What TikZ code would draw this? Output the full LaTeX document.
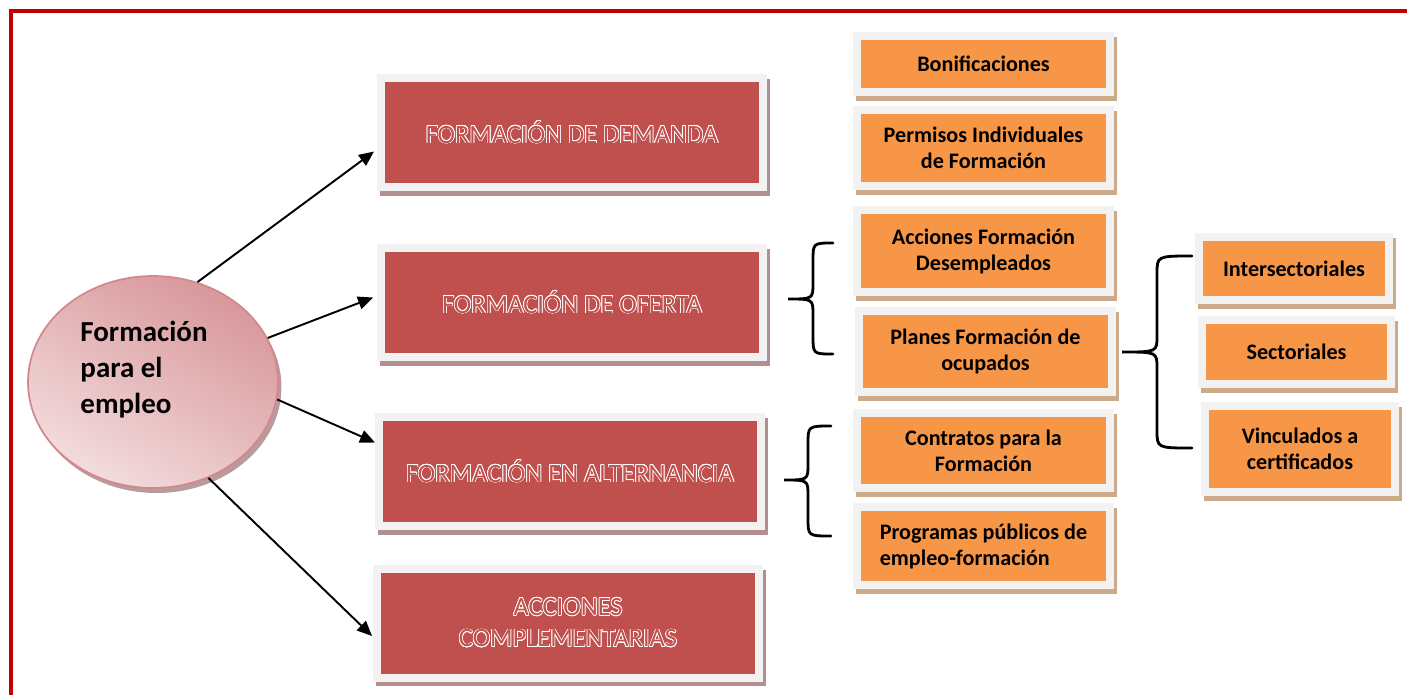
\documentclass[tikz,border=0pt]{standalone}
\usepackage{fontspec}
\setmainfont{Carlito}
\usepackage[copies]{contour}
\usepackage{tikz}
\usetikzlibrary{shapes, arrows, arrows.meta, positioning, calc}

\definecolor{framered}{HTML}{C00000}
\definecolor{boxred}{HTML}{C0504D}
\definecolor{boxorange}{HTML}{F79646}
\definecolor{rimgray}{HTML}{F2F2F2}
\definecolor{shadered}{HTML}{B48F90}
\definecolor{shadeorange}{HTML}{CDAA8A}
\definecolor{pinkdark}{HTML}{D8979B}
\definecolor{pinkpale}{HTML}{F3DCDD}
\definecolor{pinkedge}{HTML}{D4888C}
\definecolor{shadepink}{HTML}{B89C9D}

\contourlength{0.4pt}
\newcommand{\hollow}[1]{\contour{white}{\textcolor{boxred}{#1}}}

\begin{document}
\begin{tikzpicture}[x=0.02cm, y=-0.02cm, >={Triangle[length=0.3cm, width=0.26cm]}]
	\tikzstyle{red_style}=[rectangle, fill=boxred, draw=rimgray, line width=0.16cm, outer sep=0.08cm, inner sep=0pt, minimum width=7.64cm, minimum height=2.18cm, align=center, font=\fontsize{15}{17.8}\selectfont, preaction={draw=shadered, fill=shadered, line width=0.16cm, transform canvas={shift={(0.06cm,-0.1cm)}}}]
	\tikzstyle{orange_style}=[rectangle, fill=boxorange, draw=rimgray, line width=0.16cm, outer sep=0.08cm, inner sep=0pt, minimum width=5.06cm, align=center, font=\bfseries\fontsize{12.6}{14.8}\selectfont, preaction={draw=shadeorange, fill=shadeorange, line width=0.16cm, transform canvas={shift={(0.06cm,-0.1cm)}}}]
	\tikzstyle{small_style}=[orange_style, minimum width=3.8cm]
	\tikzstyle{ellipse_style}=[ellipse, draw=pinkedge, line width=1pt, minimum width=5cm, minimum height=4.24cm, top color=pinkdark, bottom color=pinkpale, shading angle=-30, preaction={fill=shadepink, transform canvas={shift={(0.07cm,-0.1cm)}}}]
	\tikzstyle{arrow_style}=[line width=1.1pt, black]
	\tikzstyle{brace_style}=[line width=1.6pt, black, line cap=round]

	\useasboundingbox (0,0) rectangle (1407,694);

	% frame
	\draw[line width=0.08cm, framered] (11,720) -- (11,10.5) -- (1430,10.5);

	% centre
	\node at (153, 382) [ellipse_style] (formacion) {};
	\node at (144, 370) [align=left, font=\bfseries\fontsize{16.5}{20.5}\selectfont] (formacion_txt) {Formación\\para el\\empleo};

	% first level
	\node at (572, 132.5) [red_style] (demanda) {\hollow{FORMACIÓN DE DEMANDA}};
	\node at (572, 302.5) [red_style] (oferta) {\hollow{FORMACIÓN DE OFERTA}};
	\node at (570, 471.5) [red_style] (alternancia) {\hollow{FORMACIÓN EN ALTERNANCIA}};
	\node at (568, 623) [red_style] (complementarias) {\hollow{ACCIONES}\\\hollow{COMPLEMENTARIAS}};

	% second level
	\node at (983.5, 64) [orange_style, minimum height=1.12cm] (bonif) {Bonificaciones};
	\node at (983.5, 148) [orange_style, minimum height=1.52cm] (permisos) {Permisos Individuales\\de Formación};
	\node at (983.5, 251) [orange_style, minimum height=1.64cm] (desempleados) {Acciones Formación\\Desempleados};
	\node at (985.5, 351.5) [orange_style, minimum height=1.62cm] (ocupados) {Planes Formación de\\ocupados};
	\node at (983.5, 450.5) [orange_style, minimum height=1.5cm] (contratos) {Contratos para la\\Formación};
	\node at (983.5, 546) [orange_style, minimum height=1.56cm, align=left] (programas) {Programas públicos de\\empleo-formación};

	% third level
	\node at (1294, 268.5) [small_style, minimum height=1.26cm] (intersect) {Intersectoriales};
	\node at (1296.5, 352) [small_style, minimum height=1.28cm] (sectoriales) {Sectoriales};
	\node at (1300, 449) [small_style, minimum height=1.72cm] (vinculados) {Vinculados a\\certificados};

	% connect: formacion -> first level
	\path[->, arrow_style] (formacion.66) edge node[] {} ($(demanda.west)+(-3,19)$);
	\path[->, arrow_style] (formacion.21) edge node[] {} ($(oferta.west)+(-4,-5)$);
	\path[->, arrow_style] (formacion.-8) edge node[] {} ($(alternancia.west)+(0,-29)$);
	\path[->, arrow_style] (formacion.-60) edge node[] {} ($(complementarias.west)+(-1,13)$);

	% braces
	\foreach \xe/\xb/\xt/\yt/\ym/\yb in {833/813/788/243/299/354, 831/808/784/426/480/536, 1192/1157/1122/256/352/448}
		\draw[brace_style] (\xe,\yt) .. controls (\xb,\yt) .. (\xb,\yt+18) -- (\xb,\ym-16) .. controls (\xb,\ym) .. (\xt,\ym) .. controls (\xb,\ym) .. (\xb,\ym+16) -- (\xb,\yb-18) .. controls (\xb,\yb) .. (\xe,\yb);

\end{tikzpicture}
\end{document}
